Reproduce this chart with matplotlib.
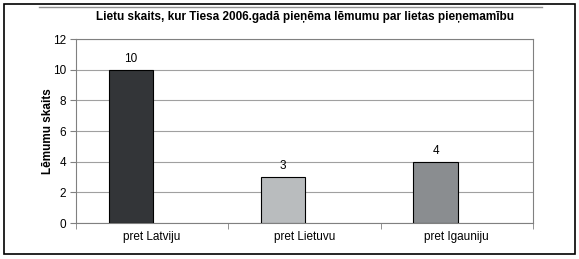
import matplotlib
matplotlib.use("Agg")
import matplotlib.pyplot as plt
from matplotlib.patches import Rectangle
from matplotlib.lines import Line2D
import numpy as np

plt.rcParams['font.family'] = ['Liberation Sans', 'DejaVu Sans']

categories = ["pret Latviju", "pret Lietuvu", "pret Igauniju"]
values = [10, 3, 4]
bar_colors = ["#333538", "#b9bcbe", "#8a8d90"]
title = "Lietu skaits, kur Tiesa 2006.gadā pieņēma lēmumu par lietas pieņemamību"
ylabel = "Lēmumu skaits"
yticks = [0, 2, 4, 6, 8, 10, 12]

W, H = 579, 259
fig = plt.figure(figsize=(W / 100, H / 100), dpi=100)
ax = fig.add_axes([76 / W, 1 - 223 / H, (533 - 76) / W, (223 - 39) / H])

x = np.arange(len(categories))
offset = -0.14
width = 0.29
bars = ax.bar(x + offset, values, width=width, color=bar_colors,
              edgecolor="black", linewidth=0.8, zorder=3)
for xi, v in zip(x, values):
    ax.text(xi + offset, v + 0.3, str(v), ha="center", va="bottom", fontsize=8.5)

ax.set_xlim(-0.5, len(categories) - 0.5)
ax.set_ylim(0, 12)
ax.set_yticks(yticks)
ax.set_yticklabels([str(t) for t in yticks], fontsize=8.5)
ax.yaxis.grid(True, color="#a0a0a0", linewidth=0.8, zorder=0)
ax.set_xticks(x)
ax.set_xticklabels(categories, fontsize=8.5)
ax.xaxis.set_tick_params(length=0, pad=6)
ax.set_xticks(np.arange(-0.5, len(categories)), minor=True)
ax.tick_params(axis="x", which="minor", length=4, color="#808080", direction="out")
ax.tick_params(axis="y", length=4, color="#808080", pad=3)
for s in ax.spines.values():
    s.set_color("#808080")
    s.set_linewidth(0.8)
ax.set_ylabel(ylabel, fontsize=8.5, fontweight="bold")
ax.yaxis.set_label_coords(-0.048, 0.5)

fig.text(305 / W, 1 - 17 / H, title, ha="center", va="center",
         fontsize=8.5, fontweight="bold")

fig.add_artist(Rectangle((4 / W, 1 - 254 / H), (575 - 4) / W, (254 - 4) / H,
                         transform=fig.transFigure, fill=False,
                         edgecolor="black", linewidth=1.2))
fig.add_artist(Line2D([39 / W, 542 / W], [1 - 6.5 / H, 1 - 6.5 / H],
                      transform=fig.transFigure, color="#909090", linewidth=1))

fig.savefig("out.png", dpi=100)
